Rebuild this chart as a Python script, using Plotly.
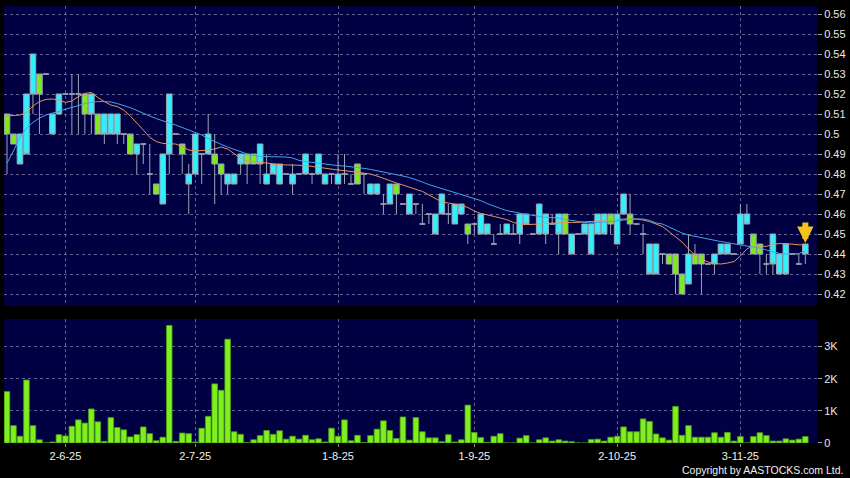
import plotly.graph_objects as go

# ---------------- data ----------------
# price candles: open, high, low, close  (124 trading days)
opens = [0.50,0.495,0.50,0.52,0.54,0.52,0.53,0.51,0.52,0.52,0.52,0.52,0.51,0.52,0.50,0.51,0.51,0.51,0.50,0.49,
         0.495,0.495,0.48,0.47,0.49,0.52,0.50,0.49,0.48,0.50,0.49,0.50,0.485,0.48,0.48,0.48,0.49,0.485,0.485,0.495,
         0.48,0.485,0.485,0.48,0.48,0.48,0.49,0.48,0.49,0.48,0.48,0.48,0.48,0.475,0.475,0.48,0.475,0.475,0.465,0.475,
         0.47,0.465,0.47,0.465,0.455,0.46,0.46,0.47,0.46,0.465,0.465,0.45,0.455,0.46,0.455,0.445,0.45,0.455,0.45,0.46,
         0.46,0.45,0.465,0.46,0.455,0.46,0.45,0.45,0.45,0.455,0.455,0.46,0.46,0.455,0.46,0.47,0.455,0.455,0.45,0.445,
         0.445,0.44,0.435,0.43,0.42,0.44,0.435,0.435,0.435,0.44,0.445,0.445,0.44,0.46,0.46,0.44,0.44,0.435,0.45,0.44,
         0.445,0.44,0.435,0.445]
highs = [0.51,0.50,0.50,0.52,0.54,0.53,0.53,0.51,0.52,0.52,0.53,0.53,0.52,0.52,0.51,0.51,0.51,0.51,0.50,0.50,
         0.495,0.495,0.495,0.475,0.49,0.52,0.50,0.495,0.485,0.50,0.49,0.51,0.50,0.485,0.48,0.48,0.49,0.49,0.49,0.495,
         0.49,0.485,0.485,0.48,0.485,0.48,0.49,0.48,0.49,0.48,0.48,0.49,0.49,0.48,0.485,0.48,0.475,0.475,0.47,0.475,
         0.475,0.465,0.47,0.465,0.465,0.46,0.46,0.47,0.465,0.465,0.465,0.455,0.455,0.46,0.455,0.45,0.455,0.455,0.455,0.46,
         0.46,0.45,0.465,0.46,0.46,0.46,0.46,0.45,0.45,0.455,0.455,0.46,0.46,0.46,0.46,0.47,0.47,0.455,0.455,0.445,
         0.445,0.44,0.44,0.44,0.43,0.45,0.445,0.44,0.435,0.44,0.445,0.445,0.44,0.465,0.465,0.45,0.445,0.44,0.45,0.44,
         0.445,0.44,0.44,0.445]
lows = [0.48,0.495,0.485,0.49,0.51,0.50,0.53,0.50,0.51,0.52,0.50,0.50,0.50,0.50,0.50,0.495,0.50,0.495,0.495,0.49,
        0.48,0.485,0.47,0.47,0.465,0.48,0.50,0.48,0.46,0.48,0.475,0.49,0.465,0.47,0.47,0.475,0.48,0.475,0.485,0.475,
        0.475,0.48,0.475,0.48,0.47,0.48,0.48,0.475,0.48,0.475,0.475,0.475,0.475,0.475,0.475,0.47,0.47,0.47,0.46,0.465,
        0.46,0.465,0.46,0.46,0.455,0.455,0.45,0.46,0.455,0.455,0.46,0.445,0.45,0.45,0.45,0.445,0.45,0.45,0.45,0.445,
        0.455,0.45,0.45,0.445,0.455,0.44,0.45,0.44,0.45,0.45,0.44,0.45,0.45,0.45,0.445,0.46,0.45,0.455,0.44,0.43,
        0.43,0.435,0.435,0.42,0.42,0.425,0.435,0.42,0.435,0.43,0.44,0.44,0.44,0.445,0.455,0.44,0.43,0.43,0.43,0.43,
        0.43,0.44,0.435,0.435]
closes = [0.51,0.50,0.485,0.49,0.52,0.53,0.53,0.50,0.51,0.52,0.52,0.52,0.52,0.51,0.51,0.50,0.50,0.50,0.50,0.50,
          0.49,0.495,0.48,0.475,0.465,0.49,0.50,0.495,0.475,0.48,0.49,0.49,0.49,0.485,0.475,0.475,0.485,0.49,0.49,0.485,
          0.475,0.48,0.475,0.48,0.475,0.48,0.48,0.48,0.48,0.475,0.48,0.475,0.48,0.475,0.485,0.48,0.47,0.47,0.465,0.465,
          0.475,0.465,0.46,0.465,0.455,0.46,0.45,0.46,0.46,0.455,0.46,0.455,0.455,0.45,0.45,0.445,0.45,0.45,0.45,0.45,
          0.455,0.45,0.45,0.45,0.455,0.45,0.46,0.44,0.45,0.45,0.44,0.45,0.45,0.46,0.445,0.46,0.46,0.455,0.45,0.43,
          0.43,0.44,0.44,0.44,0.43,0.425,0.44,0.44,0.435,0.435,0.44,0.44,0.44,0.445,0.455,0.45,0.445,0.435,0.435,0.43,
          0.43,0.44,0.435,0.44]

# moving averages as drawn on the reference
ma_short = [0.509,0.5092,0.5095,0.5107,0.514,0.5162,0.5173,0.5175,0.517,0.5158,0.5165,0.5187,0.5203,0.5208,0.5182,0.5162,0.5145,0.5137,0.512,0.509,
            0.5057,0.502,0.4983,0.4962,0.4953,0.4953,0.495,0.4937,0.492,0.4915,0.4917,0.492,0.4925,0.4935,0.4925,0.49,0.4878,0.4865,0.4862,0.486,
            0.4855,0.485,0.4847,0.4845,0.4845,0.4845,0.4842,0.4838,0.4833,0.483,0.4825,0.482,0.4817,0.4813,0.481,0.4807,0.48,0.479,0.4778,0.4765,
            0.4755,0.4745,0.4733,0.4723,0.4713,0.4695,0.4675,0.466,0.4655,0.465,0.4642,0.4633,0.4615,0.4603,0.4597,0.4588,0.458,0.4572,0.4558,0.455,
            0.4547,0.4547,0.455,0.4553,0.4555,0.4555,0.4558,0.4558,0.4558,0.456,0.4562,0.4565,0.457,0.457,0.4572,0.4575,0.4575,0.4575,0.457,0.4562,
            0.455,0.4537,0.4512,0.4488,0.446,0.4425,0.4395,0.4375,0.436,0.4352,0.435,0.4355,0.4362,0.439,0.4425,0.4442,0.444,0.4438,0.4448,0.4452,
            0.4452,0.4448,0.4446,0.4445]
ma_long = [0.4855,0.4915,0.4985,0.503,0.5058,0.508,0.5095,0.5105,0.5115,0.5125,0.5135,0.5145,0.5152,0.5158,0.5162,0.5162,0.516,0.5152,0.5142,0.5132,
           0.5118,0.5102,0.509,0.5077,0.5065,0.5055,0.5045,0.5033,0.5022,0.501,0.4995,0.4978,0.4962,0.4948,0.4935,0.4922,0.491,0.49,0.4893,0.4888,
           0.4887,0.4887,0.4887,0.4885,0.488,0.4868,0.4862,0.486,0.4855,0.485,0.4845,0.4842,0.484,0.4837,0.4833,0.4828,0.4823,0.4817,0.481,0.4802,
           0.4797,0.479,0.4782,0.4772,0.476,0.4747,0.4737,0.4727,0.4718,0.471,0.47,0.4688,0.4678,0.4667,0.4652,0.4638,0.4628,0.4617,0.461,0.4605,
           0.4598,0.4593,0.4588,0.4583,0.4582,0.458,0.4573,0.4567,0.4563,0.4558,0.4555,0.4557,0.456,0.4562,0.4565,0.457,0.4573,0.4575,0.4575,0.4568,
           0.4555,0.455,0.4535,0.452,0.4505,0.4495,0.4488,0.448,0.4473,0.4467,0.4462,0.4457,0.445,0.4445,0.444,0.4435,0.443,0.442,0.441,0.4403,
           0.44,0.44,0.4402,0.4415]

# daily volume (shares)
volume = [1600,540,210,1960,540,100,0,30,260,220,520,720,620,1060,660,50,790,480,410,190,
          260,500,290,70,180,3660,50,310,290,30,460,830,1840,1640,3230,350,270,10,100,230,
          390,270,380,120,210,120,240,100,130,30,460,210,720,70,240,10,230,430,690,390,
          140,810,90,790,350,160,160,40,260,30,100,1180,330,170,20,210,290,0,0,150,
          230,0,100,160,60,100,60,40,0,0,110,120,60,180,210,500,350,350,750,670,
          280,160,90,1140,240,540,180,180,180,320,180,330,60,200,0,200,320,230,60,60,
          130,90,120,200]

# axis labels
price_ticks = [0.42,0.43,0.44,0.45,0.46,0.47,0.48,0.49,0.50,0.51,0.52,0.53,0.54,0.55,0.56]
volume_ticks = [0, 1000, 2000, 3000]
volume_tick_text = ["0", "1K", "2K", "3K"]
date_labels = ["2-6-25", "2-7-25", "1-8-25", "1-9-25", "2-10-25", "3-11-25"]
date_label_index = [9, 29, 51, 72, 94, 113]

# ---------------- figure ----------------
idx = list(range(len(closes)))
GRID = "rgba(130,130,175,0.75)"
WICK = "#9aa6b4"
FONT = "Liberation Sans, Arial, sans-serif"

fig = go.Figure()

fig.add_trace(go.Candlestick(
    x=idx, open=opens, high=highs, low=lows, close=closes,
    xaxis="x2", yaxis="y2",
    increasing=dict(fillcolor="#7fe81e", line=dict(color=WICK, width=1)),
    decreasing=dict(fillcolor="#2ff0fc", line=dict(color=WICK, width=1)),
    whiskerwidth=0, showlegend=False, hoverinfo="skip",
))
fig.add_trace(go.Scatter(x=idx, y=ma_short, xaxis="x2", yaxis="y2", mode="lines",
                         line=dict(color="#e8925e", width=1), showlegend=False, hoverinfo="skip"))
fig.add_trace(go.Scatter(x=idx, y=ma_long, xaxis="x2", yaxis="y2", mode="lines",
                         line=dict(color="#43a6ea", width=1), showlegend=False, hoverinfo="skip"))

fig.add_trace(go.Bar(x=idx, y=volume, xaxis="x", yaxis="y",
                     marker=dict(color="#7ef01e", line=dict(color="#4f9e12", width=0.8)),
                     showlegend=False, hoverinfo="skip"))

xr = [-0.46, 124.8]
common_x = dict(range=xr, showgrid=True, gridcolor=GRID, griddash="3px,3px", gridwidth=1,
                zeroline=False, showline=False, tickvals=date_label_index, ticktext=date_labels)

fig.update_layout(
    width=850, height=478,
    margin=dict(l=4, r=33, t=6, b=35),
    paper_bgcolor="black", plot_bgcolor="#000042",
    font=dict(family=FONT, color="#e8e8e8", size=11),
    bargap=0.14, boxgap=0.14, boxgroupgap=0,
    xaxis=dict(**common_x, anchor="y", ticks="outside", ticklen=3, tickcolor="#8a8a8a",
               tickfont=dict(size=11, color="#f0f0f0")),
    xaxis2=dict(**common_x, anchor="y2", matches="x", showticklabels=False, ticks=""),
    yaxis=dict(domain=[0, 0.2838], range=[0, 3860], side="right", anchor="x",
               tickvals=volume_ticks, ticktext=volume_tick_text,
               showgrid=True, gridcolor=GRID, griddash="3px,3px", zeroline=False,
               ticks="outside", ticklen=4, tickcolor="#a0a0a0",
               tickfont=dict(size=11, color="#e8e8e8")),
    yaxis2=dict(domain=[0.3135, 1], range=[0.414, 0.564], side="right", anchor="x2",
                tickvals=price_ticks, ticktext=[f"{v:g}" for v in price_ticks],
                showgrid=True, gridcolor=GRID, griddash="3px,3px", zeroline=False,
                ticks="outside", ticklen=4, tickcolor="#a0a0a0",
                tickfont=dict(size=11, color="#e8e8e8")),
    annotations=[
        dict(text="Copyright by AASTOCKS.com Ltd.", xref="paper", yref="paper",
             x=1.0344, y=-0.062, xanchor="right", yanchor="middle", showarrow=False,
             font=dict(size=10.5, color="#f0f0f0", family=FONT)),
        dict(x=idx[-1], y=highs[-1] + 0.0005, xref="x2", yref="y2", text="",
             showarrow=True, ax=0, ay=-22, arrowhead=2, arrowsize=0.55, arrowwidth=6,
             arrowcolor="#f2c21a"),
    ],
)
fig.update_xaxes(rangeslider_visible=False)

fig.write_html("out.html", config={"displayModeBar": False},
               post_script="document.body.style.margin='0px';document.body.style.overflow='hidden';")
